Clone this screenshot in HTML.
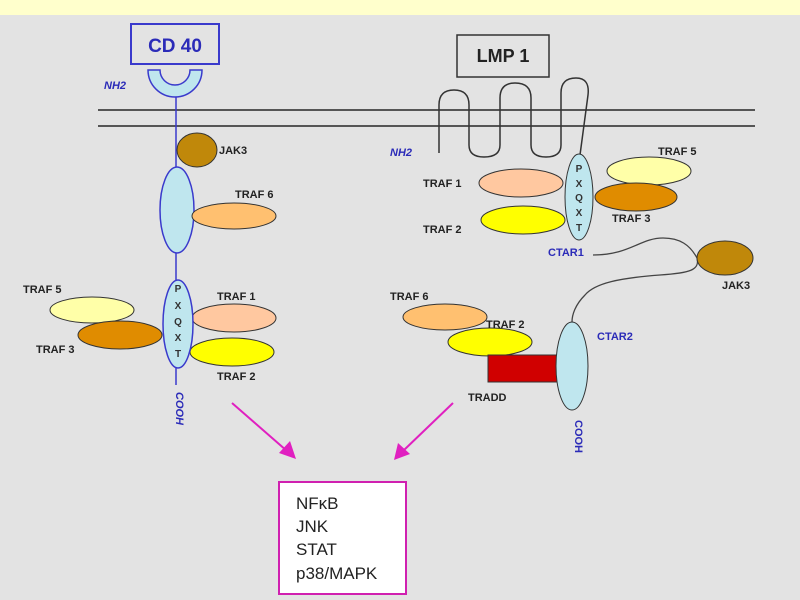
<!DOCTYPE html>
<html><head><meta charset="utf-8"><style>
html,body{margin:0;padding:0;width:800px;height:600px;overflow:hidden;background:#e3e3e3}
svg{display:block}
.l{font-family:"Liberation Sans",sans-serif;font-weight:bold;font-size:11px;fill:#222}
.b{font-family:"Liberation Sans",sans-serif;font-weight:bold;font-size:11px;fill:#2b2bb8}
.bi{font-family:"Liberation Sans",sans-serif;font-weight:bold;font-style:italic;font-size:11px;fill:#2b2bb8}
.r{font-family:"Liberation Sans",sans-serif;font-size:17px;fill:#222}
.p{font-family:"Liberation Sans",sans-serif;font-weight:bold;font-size:10px;fill:#333}
</style></head><body>
<svg width="800" height="600" xmlns="http://www.w3.org/2000/svg">
<rect x="0" y="0" width="800" height="15" fill="#ffffcc"/>
<rect x="0" y="15" width="800" height="585" fill="#e3e3e3"/>
<!-- membrane -->
<line x1="98" y1="110" x2="755" y2="110" stroke="#555" stroke-width="2"/>
<line x1="98" y1="126" x2="755" y2="126" stroke="#555" stroke-width="2"/>
<!-- CD40 -->
<rect x="131" y="24" width="88" height="40" fill="none" stroke="#3a3acc" stroke-width="2"/>
<text x="175" y="52" text-anchor="middle" style="font-family:'Liberation Sans',sans-serif;font-weight:bold;font-size:19px;fill:#2b2bb8">CD 40</text>
<path d="M148,70 A27,27 0 0 0 202,70 L190,70 A15,15 0 0 1 160,70 Z" fill="#bfe6ee" stroke="#3a3acc" stroke-width="1.5"/>
<text x="104" y="89" class="bi">NH2</text>
<line x1="176" y1="97" x2="176" y2="385" stroke="#3a3acc" stroke-width="1.5"/>
<ellipse cx="197" cy="150" rx="20" ry="17" fill="#c0880a" stroke="#333" stroke-width="1"/>
<text x="219" y="154" class="l">JAK3</text>
<ellipse cx="177" cy="210" rx="17" ry="43" fill="#bfe6ee" stroke="#3a3acc" stroke-width="1.5"/>
<ellipse cx="234" cy="216" rx="42" ry="13" fill="#ffc070" stroke="#333" stroke-width="1"/>
<text x="235" y="198" class="l">TRAF 6</text>
<ellipse cx="92" cy="310" rx="42" ry="13" fill="#ffffa8" stroke="#333" stroke-width="1"/>
<ellipse cx="120" cy="335" rx="42" ry="14" fill="#e08c00" stroke="#333" stroke-width="1"/>
<ellipse cx="234" cy="318" rx="42" ry="14" fill="#ffc8a0" stroke="#333" stroke-width="1"/>
<ellipse cx="232" cy="352" rx="42" ry="14" fill="#ffff00" stroke="#333" stroke-width="1"/>
<ellipse cx="178" cy="324" rx="15" ry="44" fill="#bfe6ee" stroke="#3a3acc" stroke-width="1.5"/>
<text x="178" y="292" text-anchor="middle" class="p">P</text>
<text x="178" y="309" text-anchor="middle" class="p">X</text>
<text x="178" y="325" text-anchor="middle" class="p">Q</text>
<text x="178" y="341" text-anchor="middle" class="p">X</text>
<text x="178" y="357" text-anchor="middle" class="p">T</text>
<text x="23" y="293" class="l">TRAF 5</text>
<text x="36" y="353" class="l">TRAF 3</text>
<text x="217" y="300" class="l">TRAF 1</text>
<text x="217" y="380" class="l">TRAF 2</text>
<text transform="translate(176,392) rotate(90)" class="bi">COOH</text>
<!-- arrows -->
<line x1="232" y1="403" x2="287" y2="451" stroke="#e020c0" stroke-width="2"/>
<polygon points="296,459 279,453 290,441" fill="#e020c0"/>
<line x1="453" y1="403" x2="403" y2="451" stroke="#e020c0" stroke-width="2"/>
<polygon points="394,460 398,443 410,454" fill="#e020c0"/>
<!-- LMP1 -->
<rect x="457" y="35" width="92" height="42" fill="none" stroke="#333" stroke-width="1.5"/>
<text x="503" y="62" text-anchor="middle" style="font-family:'Liberation Sans',sans-serif;font-weight:bold;font-size:18px;fill:#222">LMP 1</text>
<path d="M439,153 L439,105 Q439,90 454,90 Q469,90 469,105 L469,145 Q469,157 484,157 Q500,157 500,145 L500,98 Q500,83 515,83 Q531,83 531,98 L531,145 Q531,157 546,157 Q561,157 561,145 L561,93 Q561,78 576,78 Q590,78 588,95 L580,155" fill="none" stroke="#333" stroke-width="1.5"/>
<text x="390" y="156" class="bi">NH2</text>
<ellipse cx="521" cy="183" rx="42" ry="14" fill="#ffc8a0" stroke="#333" stroke-width="1"/>
<ellipse cx="523" cy="220" rx="42" ry="14" fill="#ffff00" stroke="#333" stroke-width="1"/>
<ellipse cx="649" cy="171" rx="42" ry="14" fill="#ffffa8" stroke="#333" stroke-width="1"/>
<ellipse cx="636" cy="197" rx="41" ry="14" fill="#e08c00" stroke="#333" stroke-width="1"/>
<ellipse cx="579" cy="197" rx="14" ry="43" fill="#bfe6ee" stroke="#333" stroke-width="1"/>
<text x="579" y="172" text-anchor="middle" class="p">P</text>
<text x="579" y="187" text-anchor="middle" class="p">X</text>
<text x="579" y="201" text-anchor="middle" class="p">Q</text>
<text x="579" y="216" text-anchor="middle" class="p">X</text>
<text x="579" y="231" text-anchor="middle" class="p">T</text>
<text x="423" y="187" class="l">TRAF 1</text>
<text x="423" y="233" class="l">TRAF 2</text>
<text x="658" y="155" class="l">TRAF 5</text>
<text x="612" y="222" class="l">TRAF 3</text>
<text x="548" y="256" class="b">CTAR1</text>
<path d="M593,255 C630,255 640,238 663,238 C680,238 690,245 697,258 C700,270 690,273 660,275 C620,278 595,283 585,295 C575,305 572,315 572,322" fill="none" stroke="#444" stroke-width="1.3"/>
<ellipse cx="725" cy="258" rx="28" ry="17" fill="#c0880a" stroke="#333" stroke-width="1"/>
<text x="722" y="289" class="l">JAK3</text>
<ellipse cx="445" cy="317" rx="42" ry="13" fill="#ffc070" stroke="#333" stroke-width="1"/>
<ellipse cx="490" cy="342" rx="42" ry="14" fill="#ffff00" stroke="#333" stroke-width="1"/>
<rect x="488" y="355" width="70" height="27" fill="#d00000" stroke="#333" stroke-width="1"/>
<ellipse cx="572" cy="366" rx="16" ry="44" fill="#bfe6ee" stroke="#333" stroke-width="1"/>
<text x="390" y="300" class="l">TRAF 6</text>
<text x="486" y="328" class="l">TRAF 2</text>
<text x="468" y="401" class="l">TRADD</text>
<text x="597" y="340" class="b">CTAR2</text>
<text transform="translate(575,420) rotate(90)" class="b">COOH</text>
<!-- result box -->
<rect x="279" y="482" width="127" height="112" fill="#fff" stroke="#d020b0" stroke-width="2"/>
<text x="296" y="509" class="r">NFκB</text>
<text x="296" y="532" class="r">JNK</text>
<text x="296" y="555" class="r">STAT</text>
<text x="296" y="579" class="r">p38/MAPK</text>
</svg>
</body></html>
